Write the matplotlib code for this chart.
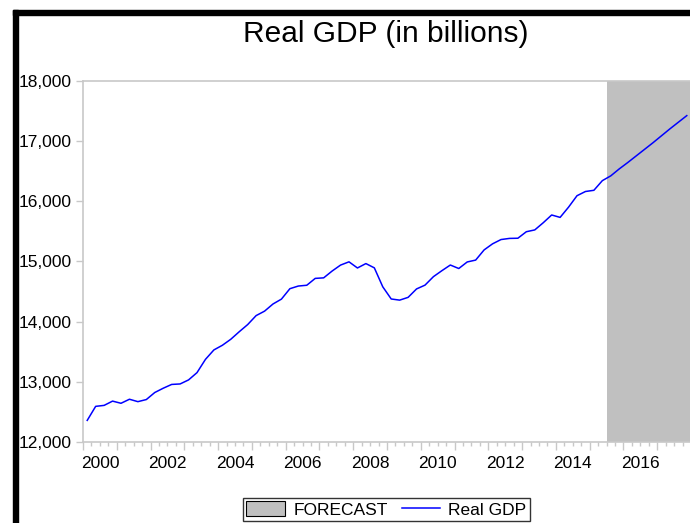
import matplotlib
matplotlib.use("Agg")
import matplotlib.pyplot as plt
from matplotlib.patches import Rectangle, Patch
from matplotlib.lines import Line2D
from matplotlib.ticker import FuncFormatter

plt.rcParams['font.family'] = ['Liberation Sans', 'DejaVu Sans']

# Quarterly data, 2000Q1 .. 2017Q4 (billions)
start_year = 2000
gdp = [
    12359, 12592, 12608, 12679,   # 2000
    12643, 12710, 12670, 12705,   # 2001
    12822, 12893, 12956, 12964,   # 2002
    13031, 13152, 13372, 13529,   # 2003
    13606, 13706, 13831, 13950,   # 2004
    14099, 14173, 14292, 14373,   # 2005
    14546, 14590, 14603, 14717,   # 2006
    14726, 14839, 14938, 14992,   # 2007
    14890, 14963, 14892, 14577,   # 2008
    14375, 14356, 14402, 14542,   # 2009
    14605, 14746, 14845, 14939,   # 2010
    14881, 14990, 15021, 15190,   # 2011
    15291, 15362, 15381, 15384,   # 2012
    15492, 15522, 15641, 15770,   # 2013
    15730, 15900, 16090, 16160,   # 2014
    16180, 16340, 16420, 16535,   # 2015
    16640, 16750, 16860, 16970,   # 2016
    17085, 17200, 17310, 17420,   # 2017
]
forecast_start = 2015.5
forecast_end = 2018.0
year_labels = [2000, 2002, 2004, 2006, 2008, 2010, 2012, 2014, 2016]
y_ticks = [12000, 13000, 14000, 15000, 16000, 17000, 18000]

x = [start_year + (i + 0.5) / 4 for i in range(len(gdp))]

W, H = 690, 523
fig = plt.figure(figsize=(W / 100, H / 100), dpi=100)
ax = fig.add_axes([83 / W, 1 - 442 / H, (691 - 83) / W, (442 - 80.7) / H])

grey = '#c8c8c8'
ax.axvspan(forecast_start, forecast_end, color='#c0c0c0', lw=0, zorder=1)
ax.plot(x, gdp, color='#0000ff', lw=1.1, zorder=3)

ax.set_xlim(2000, 2018)
ax.set_ylim(12000, 18000)
ax.set_yticks(y_ticks)
ax.yaxis.set_major_formatter(FuncFormatter(lambda v, p: f"{int(v):,}"))

ax.set_xticks(range(2000, 2019))
ax.set_xticks([2000 + q / 4 for q in range(0, 73)], minor=True)
ax.set_xticklabels([])
ax.tick_params(axis='x', which='major', length=6, width=1, color=grey, direction='out')
ax.tick_params(axis='x', which='minor', length=3, width=1, color=grey, direction='out')
ax.tick_params(axis='y', which='major', length=5, width=1, color=grey, direction='out',
               labelsize=12.5, pad=3)
for yr in year_labels:
    ax.text(yr + 0.5, -0.04, str(yr), transform=ax.get_xaxis_transform(),
            ha='center', va='top', fontsize=12.5)

for s in ['left', 'top', 'bottom']:
    ax.spines[s].set_color(grey)
    ax.spines[s].set_linewidth(1.2)
ax.spines['right'].set_visible(False)

fig.text(386 / W, 1 - 34 / H, 'Real GDP (in billions)', ha='center', va='center', fontsize=21.5)

handles = [Patch(facecolor='#c0c0c0', edgecolor='black', lw=0.8, label='FORECAST'),
           Line2D([], [], color='#0000ff', lw=1.1, label='Real GDP')]
leg = fig.legend(handles=handles, loc='center', bbox_to_anchor=(386.5 / W, 1 - 509.5 / H),
                 ncol=2, fontsize=12.5, frameon=True, fancybox=False, borderpad=0.2,
                 handlelength=2.2, handleheight=0.9, columnspacing=0.8, handletextpad=0.5)
leg.get_frame().set_edgecolor('black')
leg.get_frame().set_linewidth(1.0)

# black frame on top and left edges
fig.patches.append(Rectangle((13 / W, 1 - 15 / H), 1, 5 / H, transform=fig.transFigure,
                             color='black', zorder=10))
fig.patches.append(Rectangle((13 / W, 0), 5 / W, 1 - 10 / H, transform=fig.transFigure,
                             color='black', zorder=10))

fig.savefig('out.png', dpi=100)
